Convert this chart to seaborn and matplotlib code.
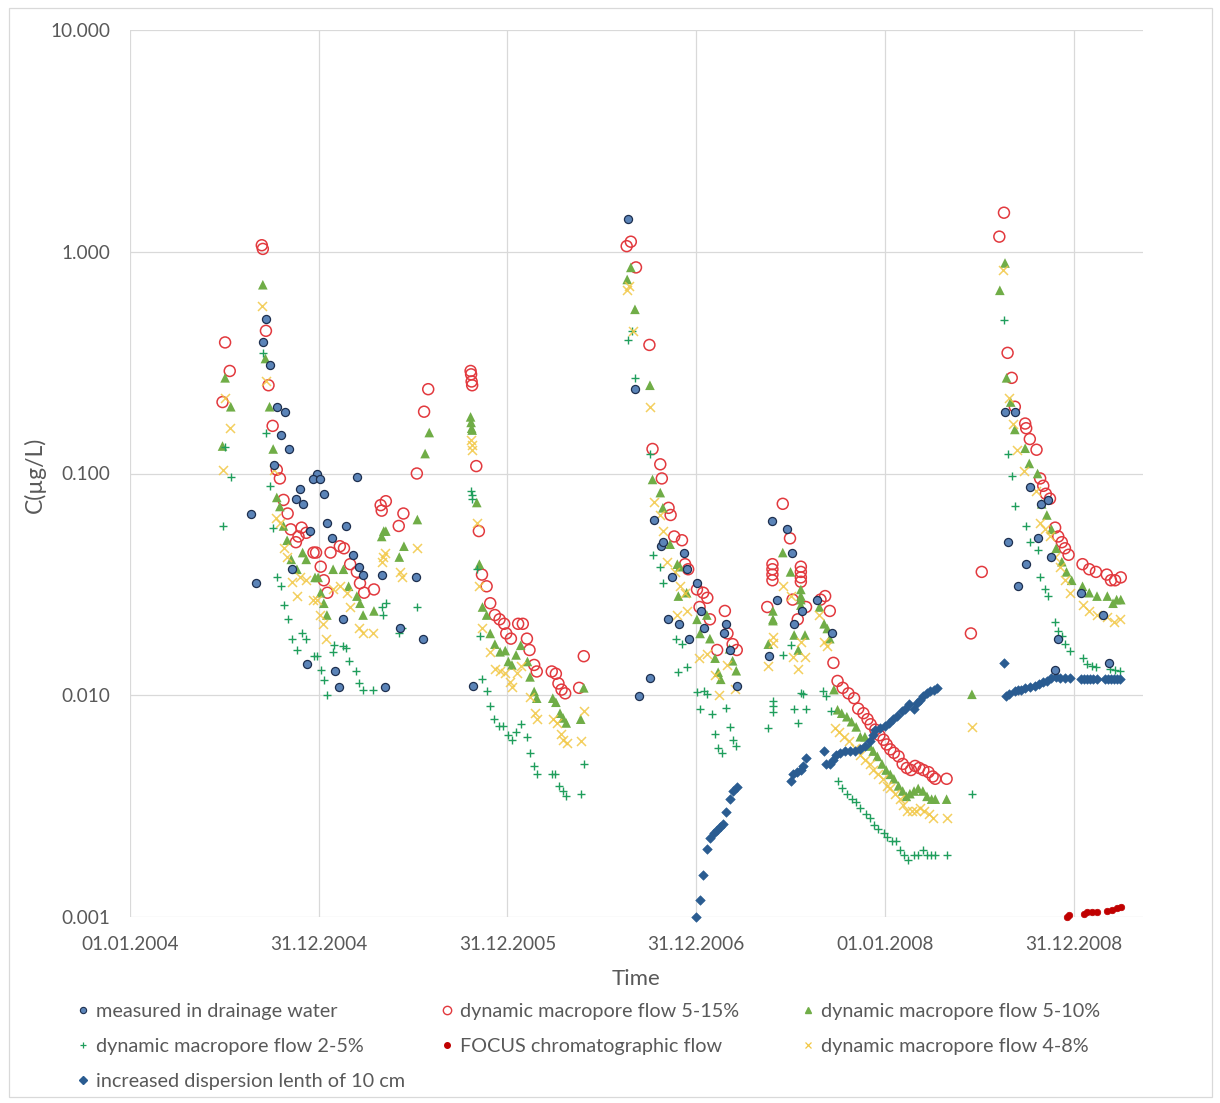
import numpy as np
import pandas as pd
import matplotlib
matplotlib.use("Agg")
import matplotlib.pyplot as plt
import seaborn as sns
from matplotlib.lines import Line2D
from matplotlib.patches import Rectangle

# ---------------- data (days since 01.01.2004, concentration in µg/L) ----------------
meas_days = [235, 264, 258, 270, 285, 300, 293, 307, 279, 244, 361, 355, 368, 328, 321, 334, 376, 440,
             382, 418, 348, 391, 313, 432, 444, 451, 488, 553, 412, 522, 566, 342, 397, 405, 494,
             663,
             964, 977, 985, 1006, 1013, 1027, 1032, 1048, 1071, 1040, 1062, 1082, 1077, 1097, 1104, 1111,
             1153, 1149, 1160, 1175,
             1243, 1272, 1280, 1251, 1329, 1300, 1285, 1358, 1237,
             1693, 1712, 1699, 1719, 1734, 1741, 1756, 1762, 1777, 1782, 1796, 1790, 1840, 1882, 1895]
meas_conc = [0.066, 0.50, 0.39, 0.31, 0.20, 0.19, 0.149, 0.129, 0.109, 0.032, 0.099, 0.094, 0.0945, 0.085,
             0.077, 0.073, 0.081, 0.096, 0.060, 0.058, 0.055, 0.051, 0.037, 0.043, 0.038, 0.035, 0.035,
             0.034, 0.022, 0.020, 0.018, 0.0139, 0.0129, 0.0109, 0.0109,
             0.011,
             1.41, 0.24, 0.0099, 0.012, 0.062, 0.047, 0.049, 0.034, 0.044, 0.022, 0.021, 0.018, 0.037,
             0.032, 0.024, 0.020, 0.021, 0.019, 0.016, 0.011,
             0.061, 0.056, 0.044, 0.027, 0.027, 0.024, 0.021, 0.019, 0.015,
             0.19, 0.19, 0.049, 0.031, 0.039, 0.087, 0.051, 0.073, 0.076, 0.042, 0.018, 0.013, 0.029,
             0.023, 0.014]

m515_days = [255, 257, 184, 193, 179, 263, 268, 276, 284, 290, 297, 305, 332, 341, 311, 321, 326, 355, 360,
             369, 375, 382, 388, 406, 414, 426, 439, 445, 453, 472, 485, 495, 487, 529, 520, 555, 569, 577,
             659, 660, 661, 662, 670, 675, 681, 690, 697, 706, 715, 724, 728, 737, 751, 760, 768, 773, 782,
             787, 816, 824, 829, 835, 842, 869, 878,
             961, 969, 979, 1005, 1011, 1026, 1029, 1042, 1046, 1053, 1068, 1074, 1080, 1097, 1109, 1117,
             1102, 1122, 1151, 1136, 1156, 1166, 1174,
             1263, 1277, 1243, 1243, 1243, 1243, 1298, 1298, 1298, 1298, 1233, 1282, 1308, 1292, 1336, 1345,
             1354, 1361, 1369, 1379, 1390, 1401, 1409, 1419, 1427, 1433, 1442, 1450, 1458, 1464, 1471, 1478,
             1487, 1495, 1503, 1511, 1519, 1527, 1535, 1545, 1553, 1558, 1580,
             1627, 1648, 1682, 1691, 1698, 1706, 1712, 1732, 1734, 1741, 1754, 1761, 1767, 1772, 1780, 1790,
             1796, 1803, 1809, 1816, 1843, 1856, 1869, 1890, 1898, 1906, 1917]
m515_conc = [1.07, 1.03, 0.39, 0.29, 0.21, 0.44, 0.25, 0.164, 0.104, 0.095, 0.076, 0.066, 0.057, 0.054, 0.056,
             0.049, 0.052, 0.044, 0.044, 0.038, 0.033, 0.029, 0.044, 0.047, 0.046, 0.039, 0.036, 0.032, 0.029,
             0.030, 0.072, 0.075, 0.068, 0.066, 0.058, 0.10, 0.19, 0.24,
             0.29, 0.28, 0.26, 0.25, 0.108, 0.055, 0.035, 0.031, 0.026, 0.023, 0.022, 0.021, 0.019, 0.018,
             0.021, 0.021, 0.018, 0.016, 0.0137, 0.0128, 0.0128, 0.0125, 0.0113, 0.0106, 0.0102, 0.0108, 0.015,
             1.06, 1.11, 0.85, 0.38, 0.129, 0.110, 0.095, 0.070, 0.065, 0.052, 0.050, 0.039, 0.037, 0.030,
             0.029, 0.0275, 0.025, 0.022, 0.024, 0.016, 0.019, 0.017, 0.016,
             0.073, 0.051, 0.039, 0.037, 0.035, 0.033, 0.038, 0.036, 0.034, 0.0325, 0.025, 0.027, 0.025, 0.022,
             0.027, 0.028, 0.024, 0.014, 0.0116, 0.0108, 0.0102, 0.0097, 0.0087, 0.0083, 0.0078, 0.0074,
             0.0070, 0.0066, 0.0063, 0.0060, 0.0057, 0.0055, 0.0053, 0.0049, 0.0047, 0.0046, 0.0048, 0.0047,
             0.0046, 0.0045, 0.0043, 0.0042, 0.0042,
             0.019, 0.036, 1.17, 1.50, 0.35, 0.27, 0.20, 0.168, 0.160, 0.143, 0.128, 0.095, 0.088, 0.081,
             0.077, 0.057, 0.052, 0.049, 0.046, 0.043, 0.039, 0.037, 0.036, 0.035, 0.033, 0.033, 0.034]

m510_days = [257, 184, 195, 179, 270, 262, 277, 284, 290, 297, 304, 312, 323, 334, 341, 358, 364, 369, 375,
             381, 393, 413, 423, 439, 445, 451, 472, 487, 491, 495, 521, 530, 556, 571, 579,
             659, 660, 661, 662, 671, 676, 682, 690, 697, 706, 716, 726, 732, 739, 747, 756, 769, 774, 782,
             787, 818, 824, 832, 838, 844, 872, 878,
             969, 962, 977, 1006, 1011, 1026, 1031, 1045, 1059, 1064, 1061, 1077, 1097, 1116, 1103, 1122,
             1132, 1138, 1143, 1160, 1166, 1173,
             1263, 1278, 1298, 1298, 1298, 1298, 1244, 1244, 1244, 1235, 1334, 1343, 1349, 1354, 1285, 1306,
             1293, 1362, 1369, 1377, 1387, 1396, 1405, 1413, 1422, 1431, 1438, 1446, 1455, 1463, 1471, 1478,
             1487, 1495, 1502, 1509, 1517, 1525, 1534, 1542, 1551, 1558, 1580,
             1629, 1683, 1693, 1696, 1704, 1712, 1732, 1740, 1756, 1764, 1774, 1783, 1792, 1803, 1812, 1822,
             1843, 1856, 1871, 1891, 1902, 1909, 1917]
m510_conc = [0.71, 0.27, 0.20, 0.133, 0.20, 0.33, 0.129, 0.078, 0.071, 0.058, 0.050, 0.041, 0.037, 0.044,
             0.041, 0.034, 0.034, 0.029, 0.026, 0.023, 0.037, 0.037, 0.031, 0.028, 0.026, 0.023, 0.024, 0.052,
             0.055, 0.055, 0.042, 0.047, 0.062, 0.123, 0.153,
             0.18, 0.17, 0.16, 0.157, 0.074, 0.039, 0.025, 0.023, 0.019, 0.017, 0.0157, 0.0159, 0.0142,
             0.0137, 0.0152, 0.0168, 0.0142, 0.0121, 0.0104, 0.0097, 0.0097, 0.0093, 0.0083, 0.0079, 0.0075,
             0.0078, 0.0108,
             0.85, 0.75, 0.55, 0.25, 0.094, 0.082, 0.070, 0.048, 0.039, 0.038, 0.028, 0.029, 0.022, 0.023,
             0.019, 0.018, 0.0147, 0.0127, 0.0118, 0.0162, 0.0143, 0.0129,
             0.044, 0.036, 0.030, 0.028, 0.027, 0.0255, 0.024, 0.022, 0.0217, 0.017, 0.025, 0.021, 0.020,
             0.018, 0.0187, 0.0187, 0.016, 0.0106, 0.0086, 0.0083, 0.0080, 0.0076, 0.0072, 0.0065, 0.0065,
             0.0059, 0.0056, 0.0053, 0.0049, 0.0046, 0.0044, 0.0042, 0.0039, 0.0037, 0.0035, 0.0036, 0.0037,
             0.0038, 0.0037, 0.0035, 0.0034, 0.0034, 0.0034,
             0.0101, 0.67, 0.89, 0.27, 0.21, 0.158, 0.130, 0.111, 0.100, 0.073, 0.065, 0.056, 0.046, 0.040,
             0.036, 0.033, 0.031, 0.029, 0.028, 0.028, 0.026, 0.027, 0.027]

m25_days = [257, 263, 195, 179, 184, 270, 277, 284, 292, 298, 306, 313, 323, 332, 341, 356, 361, 369, 375,
            381, 392, 395, 413, 418, 424, 437, 444, 451, 471, 488, 490, 495, 521, 526, 556,
            660, 661, 662, 671, 677, 682, 691, 697, 704, 713, 722, 732, 739, 747, 756, 768, 774, 782, 788,
            816, 822, 831, 837, 844, 872, 878,
            971, 964, 977, 1006, 1011, 1026, 1031, 1056, 1068, 1061, 1078, 1097, 1111, 1117, 1103, 1126,
            1153, 1132, 1138, 1145, 1161, 1167, 1173,
            1244, 1244, 1244, 1235, 1264, 1278, 1285, 1308, 1293, 1298, 1302, 1340, 1347, 1356, 1369, 1377,
            1387, 1396, 1405, 1413, 1424, 1431, 1440, 1448, 1458, 1464, 1474, 1482, 1490, 1498, 1506, 1516,
            1525, 1534, 1542, 1549, 1558, 1580,
            1629, 1691, 1698, 1706, 1712, 1734, 1741, 1756, 1761, 1770, 1777, 1790, 1796, 1803, 1809, 1819,
            1843, 1851, 1861, 1869, 1896, 1906, 1916]
m25_conc = [0.35, 0.152, 0.096, 0.058, 0.131, 0.088, 0.057, 0.034, 0.031, 0.0255, 0.022, 0.018, 0.016,
            0.019, 0.018, 0.015, 0.015, 0.013, 0.0117, 0.010, 0.0157, 0.0168, 0.0167, 0.0163, 0.0142, 0.0128,
            0.0114, 0.0106, 0.0106, 0.025, 0.023, 0.026, 0.019, 0.020, 0.025,
            0.083, 0.080, 0.077, 0.037, 0.0185, 0.0118, 0.0104, 0.0089, 0.0078, 0.0073, 0.0073, 0.0066,
            0.0063, 0.0068, 0.0074, 0.0065, 0.0055, 0.0048, 0.0044, 0.0044, 0.0044, 0.0039, 0.0037, 0.0035,
            0.0036, 0.0049,
            0.44, 0.40, 0.27, 0.123, 0.043, 0.038, 0.032, 0.018, 0.017, 0.0127, 0.0134, 0.0103, 0.0105,
            0.0101, 0.0087, 0.0082, 0.0088, 0.0067, 0.0058, 0.0055, 0.0072, 0.0063, 0.0059,
            0.0094, 0.0089, 0.0084, 0.0071, 0.0152, 0.0168, 0.0087, 0.0087, 0.0075, 0.0102, 0.0101, 0.0105,
            0.0099, 0.0085, 0.0041, 0.0038, 0.0036, 0.0034, 0.0033, 0.0031, 0.0029, 0.0028, 0.0026, 0.0025,
            0.0024, 0.0023, 0.0022, 0.0022, 0.0020, 0.0019, 0.0018, 0.0019, 0.0019, 0.0020, 0.0019, 0.0019,
            0.0019, 0.0019,
            0.0036, 0.49, 0.122, 0.097, 0.071, 0.058, 0.049, 0.045, 0.034, 0.030, 0.028, 0.0215, 0.0195,
            0.0185, 0.0171, 0.0158, 0.0147, 0.0138, 0.0135, 0.0134, 0.0132, 0.0130, 0.0129]

focus_days = [1812, 1817, 1845, 1851, 1861, 1871, 1890, 1900, 1909, 1917]
focus_conc = [0.00100, 0.00102, 0.00103, 0.00105, 0.00105, 0.00105, 0.00106, 0.00107, 0.00110, 0.00111]

m48_days = [256, 264, 193, 179, 184, 279, 283, 290, 297, 304, 313, 323, 329, 341, 355, 361, 368, 374, 379,
            393, 406, 419, 426, 444, 451, 471, 489, 493, 487, 526, 522, 556,
            660, 661, 662, 671, 676, 681, 697, 706, 716, 726, 735, 739, 749, 756, 774, 784, 788, 819, 826,
            833, 838, 845, 872, 878,
            961, 966, 974, 1006, 1013, 1026, 1031, 1039, 1055, 1064, 1074, 1058, 1078, 1100, 1116, 1132,
            1140, 1155, 1171,
            1263, 1244, 1244, 1235, 1278, 1283, 1306, 1293, 1298, 1334, 1343, 1349, 1364, 1372, 1382, 1392,
            1403, 1413, 1422, 1431, 1438, 1448, 1456, 1464, 1471, 1480, 1489, 1496, 1504, 1513, 1521, 1529,
            1536, 1545, 1553, 1580,
            1629, 1690, 1701, 1709, 1716, 1730, 1753, 1761, 1770, 1780, 1790, 1800, 1809, 1819, 1843, 1856,
            1871, 1890, 1903, 1916]
m48_conc = [0.57, 0.26, 0.161, 0.104, 0.22, 0.104, 0.063, 0.060, 0.046, 0.042, 0.0325, 0.028, 0.034, 0.033,
            0.027, 0.027, 0.023, 0.021, 0.018, 0.030, 0.031, 0.029, 0.025, 0.020, 0.019, 0.019, 0.042, 0.044,
            0.040, 0.034, 0.036, 0.046,
            0.142, 0.135, 0.128, 0.060, 0.031, 0.020, 0.0157, 0.0132, 0.0128, 0.0126, 0.0115, 0.0109,
            0.0126, 0.0135, 0.0098, 0.0083, 0.0078, 0.0078, 0.0075, 0.0067, 0.0063, 0.0061, 0.0062, 0.0085,
            0.67, 0.70, 0.44, 0.20, 0.074, 0.065, 0.055, 0.040, 0.036, 0.031, 0.029, 0.023, 0.024, 0.0147,
            0.0154, 0.0124, 0.0100, 0.0137, 0.0107,
            0.031, 0.0184, 0.0172, 0.0135, 0.028, 0.0149, 0.0149, 0.0131, 0.0173, 0.023, 0.0173, 0.0167,
            0.0071, 0.0068, 0.0065, 0.0062, 0.0058, 0.0054, 0.0051, 0.0049, 0.0046, 0.0044, 0.0042, 0.0039,
            0.0038, 0.0036, 0.0034, 0.0032, 0.0030, 0.0030, 0.0030, 0.0031, 0.0030, 0.0029, 0.0028, 0.0028,
            0.0072, 0.83, 0.22, 0.168, 0.128, 0.103, 0.083, 0.060, 0.056, 0.052, 0.042, 0.038, 0.033, 0.029,
            0.0255, 0.024, 0.023, 0.0226, 0.0215, 0.022]

disp_days = [1095, 1102, 1109, 1117, 1122, 1129, 1135, 1142, 1147, 1153, 1160, 1166, 1174,
             1278, 1283, 1290, 1298, 1302, 1308, 1342, 1347, 1354, 1360, 1366, 1374, 1384, 1393, 1403, 1413,
             1422, 1432, 1437, 1442, 1451, 1461, 1469, 1477, 1484, 1493, 1500, 1508, 1516, 1522, 1529, 1535,
             1542, 1548, 1556, 1561,
             1691, 1695, 1701, 1712, 1718, 1724, 1732, 1741, 1751, 1759, 1767, 1775, 1782, 1792, 1800, 1809,
             1819, 1841, 1846, 1851, 1858, 1864, 1871, 1886, 1892, 1898, 1904, 1910, 1916]
disp_conc = [0.0010, 0.00119, 0.00154, 0.00203, 0.00227, 0.00238, 0.00246, 0.00255, 0.00262, 0.00299,
             0.0034, 0.00371, 0.00386,
             0.0041, 0.0044, 0.0045, 0.0046, 0.0048, 0.0052, 0.0056, 0.0049, 0.0049, 0.0051, 0.0054, 0.0055,
             0.0056, 0.0056, 0.0056, 0.0057, 0.0059, 0.0062, 0.0066, 0.0070, 0.0071, 0.0073, 0.0075, 0.0078,
             0.0081, 0.0085, 0.0087, 0.0091, 0.0087, 0.0092, 0.0095, 0.0099, 0.0102, 0.0104, 0.0106, 0.0108,
             0.014, 0.0099, 0.0101, 0.0105, 0.0106, 0.0106, 0.0108, 0.0109, 0.0110, 0.0112, 0.0115, 0.0116,
             0.0119, 0.0121, 0.0120, 0.0120, 0.0120, 0.0118, 0.0118, 0.0118, 0.0118, 0.0118, 0.0118, 0.0118,
             0.0118, 0.0118, 0.0118, 0.0118, 0.0118]

series_labels = ["measured in drainage water", "dynamic macropore flow 5-15%",
                 "dynamic macropore flow 5-10%", "dynamic macropore flow 2-5%",
                 "FOCUS chromatographic flow", "dynamic macropore flow 4-8%",
                 "increased dispersion lenth of 10 cm"]
tick_dates = ["2004-01-01", "2004-12-31", "2005-12-31", "2006-12-31", "2008-01-01", "2008-12-31"]
tick_labels = ["01.01.2004", "31.12.2004", "31.12.2005", "31.12.2006", "01.01.2008", "31.12.2008"]
y_ticks = [0.001, 0.01, 0.1, 1, 10]
y_tick_labels = ["0.001", "0.010", "0.100", "1.000", "10.000"]

# ---------------- style ----------------
sns.set_theme(style="white")
plt.rcParams["font.family"] = ["Lato", "DejaVu Sans"]
GRAY_TXT = "#595959"
GRID = "#d9d9d9"

START = pd.Timestamp("2004-01-01")


def to_frame(days, conc):
    return pd.DataFrame({"date": START + pd.to_timedelta(np.asarray(days, dtype=float), unit="D"),
                         "conc": np.asarray(conc, dtype=float)})


W, H = 1220, 1103
fig = plt.figure(figsize=(W / 100, H / 100), dpi=100)
ax = fig.add_axes([130 / W, 1 - 917 / H, (1143 - 130) / W, (917 - 30) / H])

styles = {
    "m515": dict(marker="o", s=62, color="#e2393e", facecolor="none", edgecolor="#e2393e", linewidth=1.1),
    "m510": dict(marker="^", s=48, color="#70ad47", edgecolor="none", linewidth=0),
    "m25": dict(marker="+", s=34, color="#1f9e5c", linewidth=1.0),
    "focus": dict(marker="o", s=22, color="#c00000", edgecolor="#c00000", linewidth=0.5),
    "m48": dict(marker="x", s=42, color="#f2c744", linewidth=1.1, alpha=0.85),
    "disp": dict(marker="D", s=24, color="#2a5c91", edgecolor="#2a5c91", linewidth=0.4),
    "meas": dict(marker="o", s=34, color="#5b84b8", edgecolor="#1d2f4f", linewidth=0.9),
}
data = {
    "m515": (m515_days, m515_conc),
    "m510": (m510_days, m510_conc),
    "m25": (m25_days, m25_conc),
    "focus": (focus_days, focus_conc),
    "m48": (m48_days, m48_conc),
    "disp": (disp_days, disp_conc),
    "meas": (meas_days, meas_conc),
}
for key in ["m515", "m510", "m25", "focus", "m48", "disp", "meas"]:
    df = to_frame(*data[key])
    sns.scatterplot(data=df, x="date", y="conc", ax=ax, legend=False, clip_on=False, zorder=3,
                    **styles[key])

ax.set_yscale("log")
ax.set_ylim(0.001, 10)
ax.set_xlim(START, pd.Timestamp("2009-05-14"))
ax.set_yticks(y_ticks)
ax.set_yticklabels(y_tick_labels)
ax.yaxis.set_minor_locator(matplotlib.ticker.NullLocator())
ax.set_xticks(pd.to_datetime(tick_dates))
ax.set_xticklabels(tick_labels)
ax.tick_params(axis="both", length=0, colors=GRAY_TXT, labelsize=13.7)
ax.tick_params(axis="y", pad=14)
ax.tick_params(axis="x", pad=14)
ax.grid(True, which="major", color=GRID, linewidth=0.9)
ax.set_axisbelow(True)
for sp in ax.spines.values():
    sp.set_visible(False)

ax.set_xlabel("Time", fontsize=16, color=GRAY_TXT)
ax.xaxis.set_label_coords(0.5, -0.0585)
ax.set_ylabel("C(µg/L)", fontsize=16.5, color=GRAY_TXT)
ax.yaxis.set_label_coords(-0.083, 0.498)

# legend: three columns laid out row-wise as in the original
def handle(key):
    st = styles[key]
    if key == "m515":
        return Line2D([], [], ls="", marker="o", ms=6, mfc="none", mec=st["edgecolor"], mew=1.0)
    if key == "m510":
        return Line2D([], [], ls="", marker="^", ms=5, mfc=st["color"], mec=st["color"])
    if key == "m25":
        return Line2D([], [], ls="", marker="+", ms=5, mec=st["color"], mew=0.9)
    if key == "focus":
        return Line2D([], [], ls="", marker="o", ms=4, mfc=st["color"], mec=st["color"])
    if key == "m48":
        return Line2D([], [], ls="", marker="x", ms=5, mec=st["color"], mew=0.9)
    if key == "disp":
        return Line2D([], [], ls="", marker="D", ms=3.8, mfc=st["color"], mec=st["color"])
    return Line2D([], [], ls="", marker="o", ms=4.5, mfc=st["color"], mec=st["edgecolor"], mew=0.8)


columns = [
    (83, [("meas", 0), ("m25", 3), ("disp", 6)]),
    (447, [("m515", 1), ("focus", 4)]),
    (808, [("m510", 2), ("m48", 5)]),
]
LFS = 14.3
hl = 0.5
for xpx, entries in columns:
    hs = [handle(k) for k, _ in entries]
    ls = [series_labels[i] for _, i in entries]
    left_px = xpx - hl * LFS * 1.389 / 2
    fig.legend(hs, ls, loc="upper left", bbox_to_anchor=(left_px / W, 1 - 1003 / H),
               bbox_transform=fig.transFigure, frameon=False, fontsize=LFS,
               handlelength=hl, handletextpad=0.40, labelspacing=0.90, borderpad=0,
               borderaxespad=0, labelcolor=GRAY_TXT)

fig.patches.append(Rectangle((9 / W, 1 - 1097 / H), (1212 - 9) / W, (1097 - 8) / H,
                             transform=fig.transFigure, fill=False, edgecolor=GRID, linewidth=0.9))

fig.savefig("out.png", dpi=100, facecolor="white")
